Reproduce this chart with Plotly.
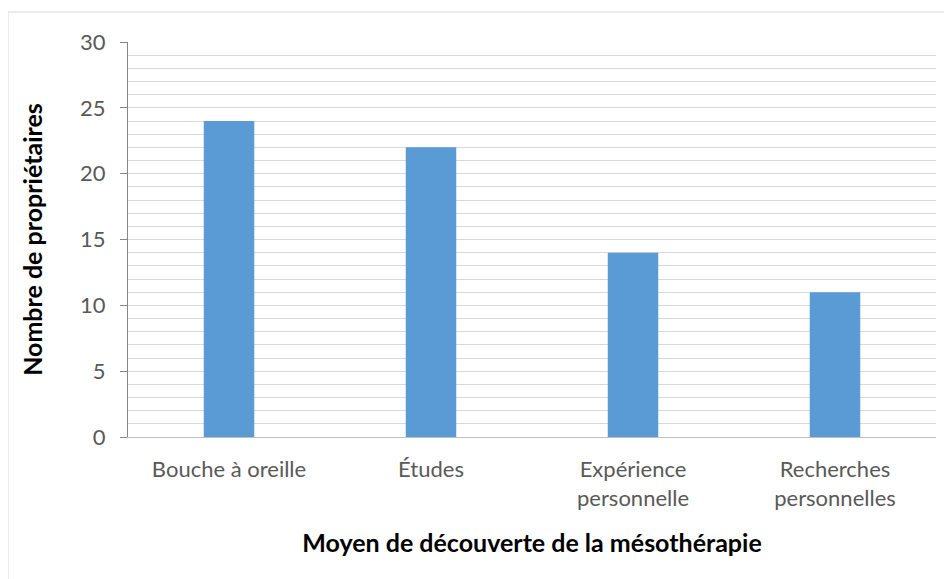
import plotly.graph_objects as go

categories = ["Bouche à oreille", "Études", "Expérience<br>personnelle", "Recherches<br>personnelles"]
counts = [24, 22, 14, 11]

x_title = "Moyen de découverte de la mésothérapie"
y_title = "Nombre de propriétaires"

fig = go.Figure()

fig.add_trace(
    go.Bar(
        x=categories,
        y=counts,
        marker=dict(color="#5B9BD5", line=dict(width=0)),
        width=0.25,
    )
)

# page body adds an 8px offset, so the figure is a little smaller than the window
fig.update_layout(
    width=944,
    height=571,
    margin=dict(l=120, r=16, t=34, b=142),
    paper_bgcolor="white",
    plot_bgcolor="white",
    showlegend=False,
    font=dict(family="Lato", size=21, color="#595959"),
)

fig.update_xaxes(
    showline=True,
    linecolor="#bfbfbf",
    linewidth=1,
    ticks="",
    showgrid=False,
    ticklabelstandoff=13,
    tickfont=dict(size=22),
    title=dict(
        text=x_title,
        font=dict(family="Lato", size=25, color="black", weight="bold"),
        standoff=24,
    ),
)

fig.update_yaxes(
    range=[0, 30],
    dtick=5,
    showline=True,
    linecolor="#868686",
    linewidth=1,
    ticks="outside",
    ticklen=7,
    tickcolor="#868686",
    showgrid=True,
    gridcolor="#d9d9d9",
    gridwidth=1,
    minor=dict(dtick=1, showgrid=True, gridcolor="#d9d9d9", gridwidth=1),
    zeroline=False,
    ticklabelstandoff=10,
    tickfont=dict(size=22),
    title=dict(
        text=y_title,
        font=dict(family="Lato", size=25, color="black", weight="bold"),
        standoff=30,
    ),
)

# chart frame around the figure, as in the spreadsheet export
fig.add_shape(
    type="rect",
    xref="paper",
    yref="paper",
    x0=-0.1485,
    x1=1.2,
    y0=-0.6,
    y1=1.0759,
    line=dict(color="#d9d9d9", width=1),
    fillcolor="rgba(0,0,0,0)",
    layer="below",
)

fig.write_html("out.html")
